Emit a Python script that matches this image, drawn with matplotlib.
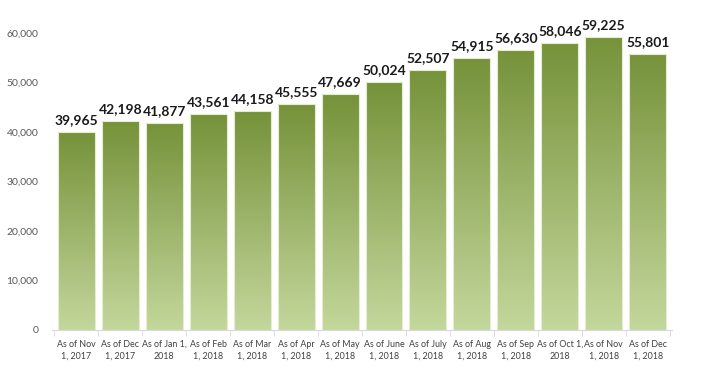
import numpy as np
import matplotlib.pyplot as plt
from matplotlib.colors import LinearSegmentedColormap
from matplotlib.ticker import FuncFormatter

# Dati
categorie = ["As of Nov\n1, 2017", "As of Dec\n1, 2017", "As of Jan 1,\n2018", "As of Feb\n1, 2018",
             "As of Mar\n1, 2018", "As of Apr\n1, 2018", "As of May\n1, 2018", "As of June\n1, 2018",
             "As of July\n1, 2018", "As of Aug\n1, 2018", "As of Sep\n1, 2018", "As of Oct 1,\n2018",
             "As of Nov\n1, 2018", "As of Dec\n1, 2018"]
valori = [39965, 42198, 41877, 43561, 44158, 45555, 47669, 50024, 52507, 54915, 56630, 58046, 59225, 55801]

plt.rcParams['font.family'] = ['Lato', 'DejaVu Sans']

fig = plt.figure(figsize=(7.05, 3.74), dpi=100)
ax = fig.add_axes([0.074, 0.118, 0.879, 0.794])

x = np.arange(len(valori))
barre = ax.bar(x, valori, width=0.84, color="none", edgecolor="#e4ecd2", linewidth=0.8, zorder=3)

# gradiente verticale per ogni barra (scuro in alto, chiaro in basso)
cmap = LinearSegmentedColormap.from_list("verde", ["#c4d79c", "#76923a"])
grad = np.linspace(0, 1, 256).reshape(-1, 1)
for b in barre:
    x0, y0 = b.get_x(), b.get_y()
    w, h = b.get_width(), b.get_height()
    im = ax.imshow(grad, cmap=cmap, origin="lower", aspect="auto",
                   extent=(x0, x0 + w, y0, y0 + h), zorder=2)
    im.set_clip_path(b)

for xi, v in zip(x, valori):
    ax.text(xi, v + 1200, f"{v:,}", ha="center", va="bottom", fontsize=10,
            fontweight="bold", color="#1a1a1a")

ax.set_xlim(-0.55, len(valori) - 0.45)
ax.set_ylim(0, 60000)
ax.set_yticks(np.arange(0, 60001, 10000))
ax.yaxis.set_major_formatter(FuncFormatter(lambda v, p: f"{int(v):,}"))
ax.set_xticks(x)
ax.set_xticklabels(categorie, fontsize=6.4, color="#404040", linespacing=1.5)
ax.set_xticks(np.arange(-0.5, len(valori), 1), minor=True)
ax.tick_params(axis="x", which="major", length=0, pad=7)
ax.tick_params(axis="x", which="minor", length=4, color="#d9d9d9")
ax.tick_params(axis="y", length=0, labelsize=7.5, labelcolor="#595959", pad=10)

for s in ["top", "right", "left"]:
    ax.spines[s].set_visible(False)
ax.spines["bottom"].set_color("#d9d9d9")

fig.savefig("out.png", dpi=100)
